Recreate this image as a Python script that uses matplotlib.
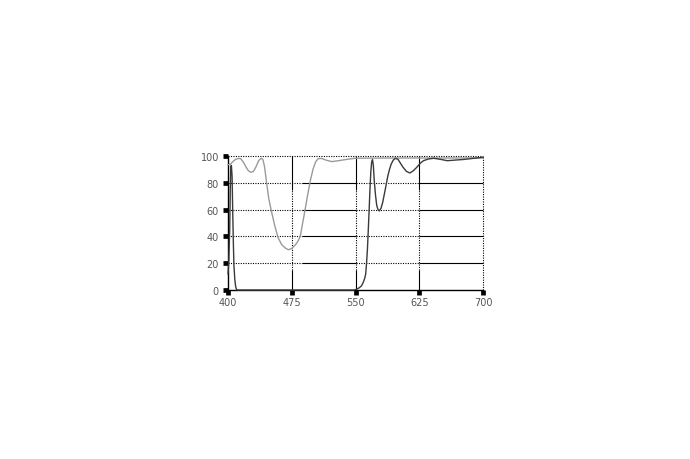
import matplotlib
matplotlib.use("Agg")
import matplotlib.pyplot as plt

# ---- data ----
gray_wl = [400, 403, 406, 409, 412, 415, 418, 421, 424, 427, 430, 433, 436, 439, 441,
           443, 445, 448, 451, 455, 459, 463, 467, 471, 475, 479, 482, 485, 487, 489,
           491, 494, 497, 500, 503, 506, 510, 515, 522, 530, 540, 549, 560, 600, 650, 700]
gray_val = [93.5, 94, 96, 97.5, 98.2, 98, 95.5, 92, 89, 87.8, 88.5, 92, 96.5, 98.3, 97.5,
            92, 82, 68, 59, 48, 39, 34, 31.5, 30, 31, 33.5, 36, 40, 47, 54,
            61, 72, 82, 90, 95.5, 98, 98.2, 97, 95.8, 96.5, 97.5, 98.3, 98.4, 98.5, 98.5, 98.6]

black_wl = [400, 401, 402, 402.7, 403.2, 404, 404.8, 405.5, 406.3, 407, 408, 409, 410, 411,
            548, 551, 554, 557, 559, 561, 562, 563, 564, 565, 566, 567, 568, 569, 570,
            571, 572, 573.5, 575, 576.5, 578, 580, 582, 585, 588, 590, 592, 594.5, 597,
            600, 603, 606, 610, 614, 618, 622, 626, 630, 636, 642, 650, 658, 668, 677,
            688, 700]
black_val = [12, 22, 45, 75, 92, 93, 85, 60, 35, 18, 8, 2.5, 0.5, 0,
             0, 0.5, 1.5, 3, 5.5, 9, 12, 20, 30, 44, 59, 75, 88, 95.5, 97.3,
             93, 82, 71, 63, 60, 59, 61, 65.4, 75, 85, 90, 94, 97, 98.3,
             97.5, 94.5, 91.5, 88.5, 87.3, 89, 91.5, 94.5, 96.5, 97.8, 98.3, 97.5, 96.5, 97, 97.4,
             98.2, 99]

x_ticks = [400, 475, 550, 625, 700]
x_labels = ["400", "475", "550", "625", "700"]
y_ticks = [0, 20, 40, 60, 80, 100]
y_labels = ["0", "20", "40", "60", "80", "100"]

# ---- figure ----
fig = plt.figure(figsize=(6.9, 4.6), dpi=100)
ax = fig.add_axes([228 / 690, 1 - 291 / 460, 255 / 690, 134 / 460])
ax.set_xlim(400, 700)
ax.set_ylim(0, 100)

DOT = (0, (1, 1.2))
grid_kw = dict(color="black", lw=0.8, zorder=1, clip_on=False)

# horizontal grid lines (mixed dotted / solid segments, as in reference)
for y in y_ticks[1:]:
    if y == 100:
        ax.hlines(y, 400, 700, linestyles=[DOT], **grid_kw)
        continue
    ax.hlines(y, 400, 487, linestyles=[DOT], **grid_kw)
    ax.hlines(y, 487, 550, linestyles="solid", **grid_kw)
    ax.hlines(y, 550, 625, linestyles=[DOT], **grid_kw)
    ax.hlines(y, 625, 700, linestyles="solid", **grid_kw)

# vertical grid lines
for x in x_ticks[1:]:
    if x == 700:
        ax.vlines(x, 0, 100, linestyles=[DOT], **grid_kw)
        continue
    ax.vlines(x, 75, 100, linestyles="solid", **grid_kw)
    ax.vlines(x, 15, 75, linestyles=[DOT], **grid_kw)
    ax.vlines(x, 0, 15, linestyles="solid", **grid_kw)

ax.plot(gray_wl, gray_val, color="#9a9a9a", lw=1.0, zorder=3, clip_on=False)
ax.plot(black_wl, black_val, color="#3a3a3a", lw=1.0, zorder=4, clip_on=False)

for s in ["top", "right"]:
    ax.spines[s].set_visible(False)
for s in ["left", "bottom"]:
    ax.spines[s].set_color("black")
    ax.spines[s].set_linewidth(1.0)
    ax.spines[s].set_zorder(2)

ax.set_xticks(x_ticks)
ax.set_xticklabels(x_labels)
ax.set_yticks(y_ticks)
ax.set_yticklabels(y_labels)
ax.tick_params(axis="both", direction="out", length=3.4, width=3.4, color="black",
               labelsize=7, labelcolor="#555555")
ax.tick_params(axis="x", pad=1.8)
ax.tick_params(axis="y", pad=3.2)

fig.savefig("out.png", dpi=100, facecolor="white")
